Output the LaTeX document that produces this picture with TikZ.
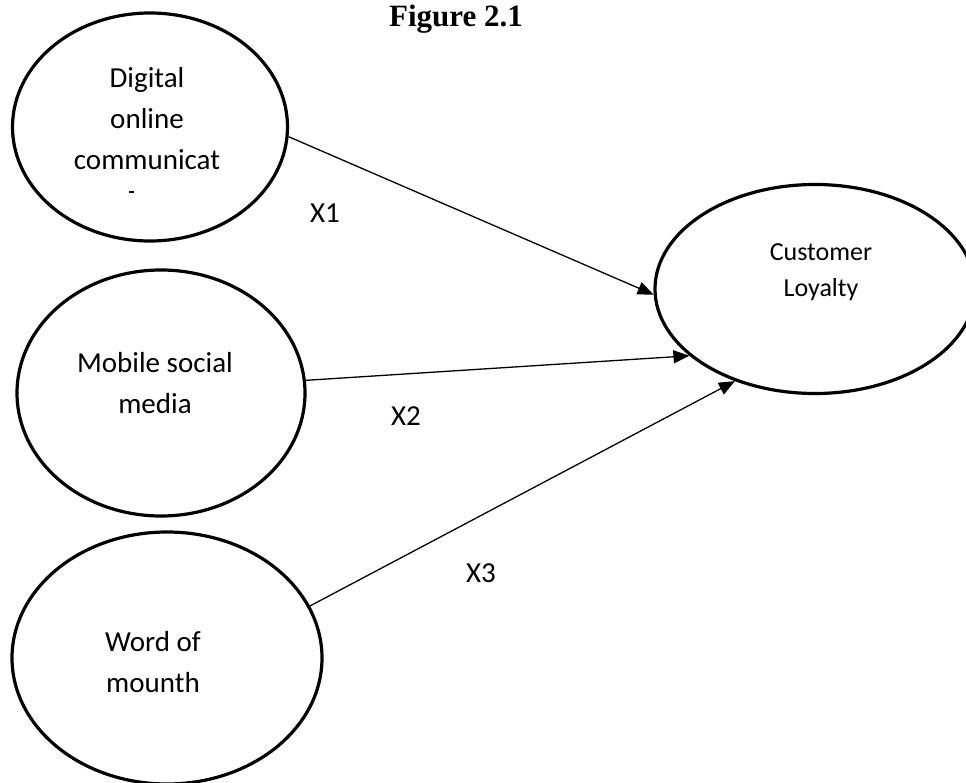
\documentclass[tikz,border=0pt]{standalone}
\usepackage{fontspec}
\setmainfont{Carlito}
\newfontfamily\titlefont{Liberation Serif}
\usetikzlibrary{shapes.geometric,arrows.meta}
\begin{document}
\begin{tikzpicture}[x=1pt,y=-1pt,
  oval/.style={draw, ellipse, line width=3.2pt, inner sep=0pt},
  lbl/.style={font=\fontsize{29}{41}\selectfont, align=center, anchor=base, inner sep=0pt},
  conn/.style={line width=1.3pt, -{Triangle[length=16pt,width=13pt]}}]
\useasboundingbox (0,0) rectangle (966,783);
% ovals
\node[oval, minimum width=275pt, minimum height=228pt] (e1) at (150,127) {};
\node[oval, minimum width=288pt, minimum height=246pt] (e2) at (161,393) {};
\node[oval, minimum width=310pt, minimum height=252pt] (e3) at (167,658) {};
\node[oval, minimum width=320pt, minimum height=209pt] (cl) at (815,289) {};
% texts
\node[font=\titlefont\bfseries\fontsize{31}{36}\selectfont, anchor=base, inner sep=0pt] (title) at (456,27) {Figure 2.1};
\node[lbl] (t1) at (147,170) {Digital\\online\\communicat};
\coordinate (d1) at (129,192);
\coordinate (d2) at (134,192);
\draw[line width=1.5pt] (d1) -- (d2);
\node[lbl] (t2) at (155,413) {Mobile social\\media};
\node[lbl] (t3) at (153,692) {Word of\\mounth};
\node[lbl, font=\fontsize{26}{36}\selectfont] (t4) at (821,297) {Customer\\Loyalty};
\node[lbl] (x1) at (325,223) {X1};
\node[lbl] (x2) at (406,425) {X2};
\node[lbl] (x3) at (481,582) {X3};
% connectors
\draw[conn] (e1.-4.5) -- (cl.-178.6);
\draw[conn] (e2.5.6) -- (cl.208);
\draw[conn] (e3.20.4) -- (cl.229.6);
\end{tikzpicture}
\end{document}
